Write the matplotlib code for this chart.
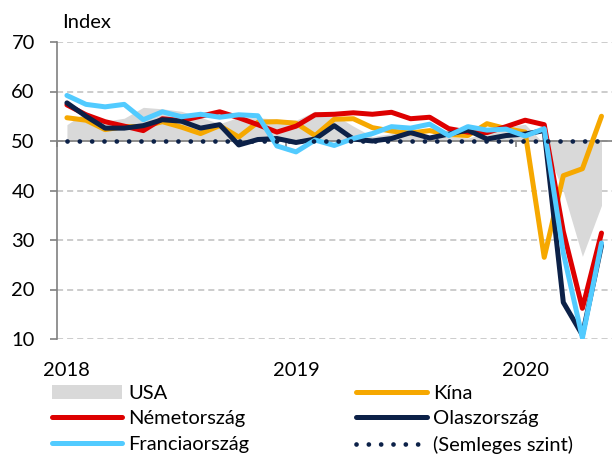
import numpy as np
import matplotlib.pyplot as plt
from matplotlib.patches import Patch
from matplotlib.lines import Line2D
import matplotlib.transforms as mtransforms

plt.rcParams['font.family'] = ['Lato', 'DejaVu Sans']

# Szolgáltatási BMI, 2018 jan - 2020 máj (havi)
usa = [53.3, 55.9, 54.0, 54.6, 56.8, 56.5, 56.0, 54.8, 53.5, 54.8, 54.7, 54.4,
       54.2, 56.0, 55.3, 53.0, 50.9, 51.5, 53.0, 50.7, 50.9, 50.6, 51.6, 52.8,
       53.4, 49.4, 39.8, 26.7, 37.0]
kina = [54.7, 54.2, 52.3, 52.9, 52.9, 53.9, 52.8, 51.5, 53.1, 50.8, 53.8, 53.9,
        53.6, 51.1, 54.4, 54.5, 52.7, 52.0, 51.6, 52.1, 51.3, 51.1, 53.5, 52.5,
        51.8, 26.5, 43.0, 44.4, 55.0]
nemet = [57.3, 55.3, 53.9, 53.0, 52.1, 54.5, 54.1, 55.0, 55.9, 54.7, 53.3, 51.8,
         53.0, 55.3, 55.4, 55.7, 55.4, 55.8, 54.5, 54.8, 52.5, 51.8, 51.7, 52.9,
         54.2, 53.3, 31.7, 16.2, 31.4]
olasz = [57.7, 55.0, 52.6, 52.6, 53.1, 54.3, 54.0, 52.6, 53.3, 49.2, 50.3, 50.5,
         49.7, 50.4, 53.1, 50.4, 50.0, 50.5, 51.7, 50.6, 51.4, 52.2, 50.4, 51.1,
         51.4, 52.1, 17.4, 10.8, 28.9]
francia = [59.2, 57.4, 56.9, 57.4, 54.3, 55.9, 54.9, 55.4, 54.8, 55.3, 55.1, 49.0,
           47.8, 50.2, 49.1, 50.5, 51.5, 52.9, 52.6, 53.4, 51.1, 52.9, 52.2, 52.4,
           51.0, 52.5, 27.4, 10.2, 29.4]
semleges = [50.0] * 29
evek = ['2018', '2019', '2020']
ev_pozicio = [0, 12, 24]

x = np.arange(len(usa))

c_usa = '#d9d9d9'
c_kina = '#f6a800'
c_nemet = '#dd0000'
c_olasz = '#0c2148'
c_francia = '#52cbff'
c_axis = '#808080'
c_text = '#000000'
fs = 14.5

fig = plt.figure(figsize=(6.12, 4.55), dpi=100)
ax = fig.add_axes([57 / 612, 1 - 339 / 455, 555 / 612, 297 / 455])

ax.fill_between(x, 50, usa, color=c_usa, linewidth=0, zorder=1)
lw = 3.6
ax.plot(x, kina, color=c_kina, lw=lw, solid_joinstyle='round', solid_capstyle='round', zorder=3)
ax.plot(x, nemet, color=c_nemet, lw=lw, solid_joinstyle='round', solid_capstyle='round', zorder=4)
ax.plot(x, olasz, color=c_olasz, lw=lw, solid_joinstyle='round', solid_capstyle='round', zorder=5)
ax.plot(x, francia, color=c_francia, lw=lw, solid_joinstyle='round', solid_capstyle='round', zorder=6)
dot_lw = 3.4
dot_style = (0, (0.01, 2.6))
ax.plot(x, semleges, color=c_olasz, lw=dot_lw, linestyle=dot_style, dash_capstyle='round', zorder=7)

ax.set_xlim(-0.52, 28.55)
ax.set_ylim(10, 70)
ax.set_yticks(np.arange(10, 71, 10))
ax.yaxis.grid(True, color='#bfbfbf', linestyle=(0, (4, 2.6)), linewidth=1.1)
ax.set_axisbelow(True)

for s in ['top', 'right']:
    ax.spines[s].set_visible(False)
ax.spines['left'].set_color(c_axis)
ax.spines['left'].set_linewidth(1.2)
ax.spines['bottom'].set_position(('data', 50))
ax.spines['bottom'].set_color(c_axis)
ax.spines['bottom'].set_linewidth(1.2)
ax.spines['bottom'].set_zorder(1.5)

ax.tick_params(axis='y', length=5, width=1.2, color=c_axis, labelsize=fs, pad=11, labelcolor=c_text)
ax.set_xticks([-0.5, 11.5, 23.5])
ax.set_xticklabels([])
ax.tick_params(axis='x', length=4.5, width=1.2, color=c_axis, direction='out')

trans = mtransforms.blended_transform_factory(ax.transData, fig.transFigure)
for pos, ev in zip(ev_pozicio, evek):
    ax.text(pos, 1 - 370 / 455, ev, transform=trans, ha='center', va='center',
            fontsize=fs, color=c_text)

fig.text(62 / 612, 1 - 23 / 455, 'Index', ha='left', va='center', fontsize=fs, color=c_text)

handles = [
    Patch(facecolor=c_usa, edgecolor='none'),
    Line2D([], [], color=c_nemet, lw=lw, solid_capstyle='round'),
    Line2D([], [], color=c_francia, lw=lw, solid_capstyle='round'),
    Line2D([], [], color=c_kina, lw=lw, solid_capstyle='round'),
    Line2D([], [], color=c_olasz, lw=lw, solid_capstyle='round'),
    Line2D([], [], color=c_olasz, lw=dot_lw, linestyle=dot_style, dash_capstyle='round'),
]
labels = ['USA', 'Németország', 'Franciaország', 'Kína', 'Olaszország', '(Semleges szint)']
fig.legend(handles, labels, ncol=2, loc='upper left', bbox_to_anchor=(52 / 612, 1 - 385 / 455),
           frameon=False, fontsize=fs, handlelength=3.5, handletextpad=0.3,
           columnspacing=5.3, labelspacing=0.41, borderpad=0, borderaxespad=0,
           labelcolor=c_text)

fig.savefig('out.png', dpi=100)
